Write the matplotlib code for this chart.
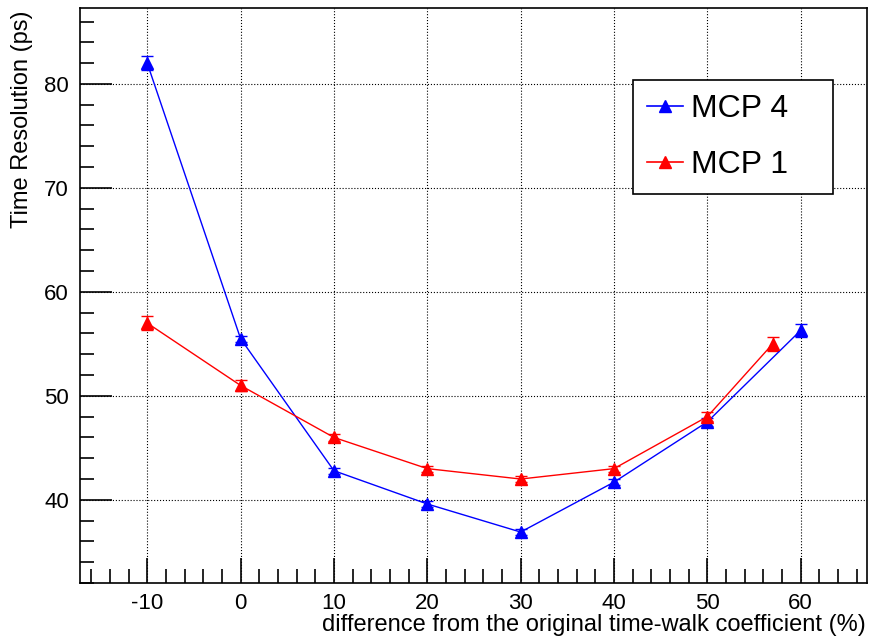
import matplotlib
matplotlib.use("Agg")
import matplotlib.pyplot as plt
from matplotlib.ticker import MultipleLocator
from matplotlib.lines import Line2D

plt.rcParams['font.family'] = ['Liberation Sans', 'DejaVu Sans']
plt.rcParams['axes.unicode_minus'] = False

# MCP 4 data
x_mcp4 = [-10, 0, 10, 20, 30, 40, 50, 60]
y_mcp4 = [82.0, 55.5, 42.8, 39.6, 36.9, 41.7, 47.5, 56.3]
e_mcp4 = [0.7, 0.3, 0.3, 0.3, 0.3, 0.3, 0.4, 0.6]

# MCP 1 data
x_mcp1 = [-10, 0, 10, 20, 30, 40, 50, 57]
y_mcp1 = [57.0, 51.0, 46.0, 43.0, 42.0, 43.0, 48.0, 55.0]
e_mcp1 = [0.7, 0.5, 0.3, 0.3, 0.3, 0.3, 0.4, 0.7]

fig = plt.figure(figsize=(8.7, 6.36), dpi=100)
ax = fig.add_axes([80 / 870, 1 - 583 / 636, 787 / 870, 575 / 636])

ax.errorbar(x_mcp4, y_mcp4, yerr=e_mcp4, color='blue', marker='^', markersize=8,
            linewidth=1, capsize=4, elinewidth=1, capthick=1)
ax.errorbar(x_mcp1, y_mcp1, yerr=e_mcp1, color='red', marker='^', markersize=8,
            linewidth=1, capsize=4, elinewidth=1, capthick=1)

ax.set_xlim(-17.2, 67.1)
ax.set_ylim(32.0, 87.3)
ax.xaxis.set_major_locator(MultipleLocator(10))
ax.xaxis.set_minor_locator(MultipleLocator(2))
ax.yaxis.set_major_locator(MultipleLocator(10))
ax.yaxis.set_minor_locator(MultipleLocator(2))
ax.tick_params(which='both', direction='in', width=1.2, labelsize=16,
               top=False, right=False)
ax.tick_params(axis='x', which='major', length=18, pad=7)
ax.tick_params(axis='y', which='major', length=23, pad=8)
ax.tick_params(which='minor', length=10)
ax.grid(True, which='major', color='black', linestyle=':', linewidth=0.8)
for s in ax.spines.values():
    s.set_linewidth(1.2)

# axis titles placed like ROOT does: y at top, x at right
fig.text(22 / 870, 1 - 10 / 636, 'Time Resolution (ps)', rotation=90, fontsize=17,
         ha='center', va='top')
fig.text(866 / 870, 1 - 631 / 636, 'difference from the original time-walk coefficient (%)',
         fontsize=17, ha='right', va='baseline')

handles = [Line2D([], [], color='blue', marker='^', markersize=8, linewidth=1.2),
           Line2D([], [], color='red', marker='^', markersize=8, linewidth=1.2)]
leg = ax.legend(handles, ['MCP 4', 'MCP 1'], loc='upper left', mode='expand',
                bbox_to_anchor=((633 - 80) / 787, 0.687, 200 / 787, 0.1878),
                borderaxespad=0, fontsize=23, frameon=True, fancybox=False,
                edgecolor='black', framealpha=1, handlelength=1.12,
                handletextpad=0.25, borderpad=0.45, labelspacing=0.8)
leg.get_frame().set_linewidth(1.2)

fig.savefig('out.png', dpi=100)
